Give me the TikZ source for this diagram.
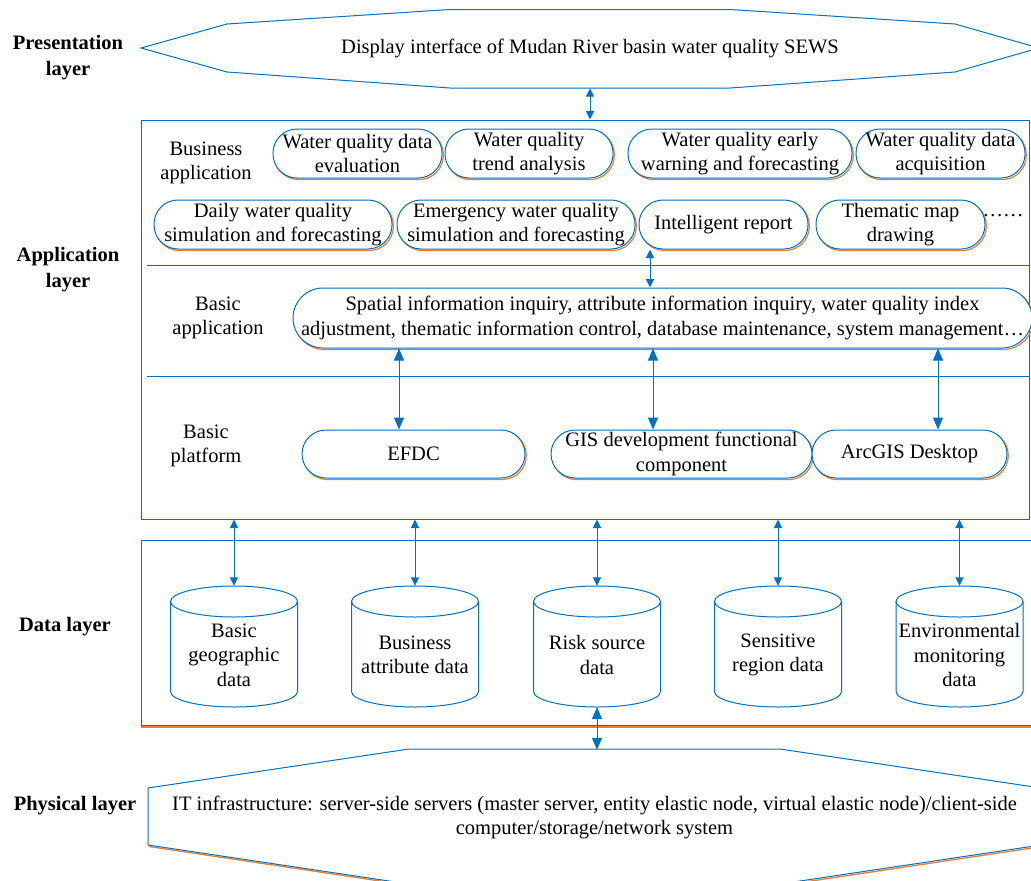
\documentclass[tikz,border=0pt]{standalone}
\usepackage{fontspec}
\setmainfont{Liberation Serif}
\usetikzlibrary{arrows.meta,shadows}
\definecolor{lblue}{RGB}{0,112,192}
\definecolor{lorange}{RGB}{237,125,49}
\newcommand\mycyl[3]{%
  \node[minimum width=127pt, minimum height=121pt] (#1) at (#2,646.5) {};
  \node (#1t) at (#2,655) {#3};
  \draw[ln] (#2,601.5) ellipse [x radius=63.5, y radius=15.5];
  \draw[ln] (#2-63.5,601.5) -- (#2-63.5,691.5) arc [start angle=180, end angle=0, x radius=63.5, y radius=15.5] -- (#2+63.5,601.5);
}
\begin{document}
\begin{tikzpicture}[x=1pt,y=-1pt,
  every node/.style={font=\fontsize{20.5}{24.5}\selectfont, align=center, inner sep=0pt},
  ln/.style={draw=lblue, line width=1pt},
  lbl/.style={font=\bfseries\fontsize{20.5}{26}\selectfont},
  pill/.style={ln, fill=white, rounded corners=#1,
    general shadow={draw=lorange, fill=none, line width=1.2pt, shadow xshift=1.3pt, shadow yshift=-1.5pt}},
  pill/.default=24pt,
  bigar/.style={ln, {Triangle[length=12pt,width=10pt]}-{Triangle[length=12pt,width=10pt]}},
  smallar/.style={ln, {Triangle[length=8.5pt,width=8pt]}-{Triangle[length=8.5pt,width=8pt]}}
]
\path[use as bounding box, clip] (0,0) rectangle (1031,881);

% layer labels
\node[lbl] (Lpres) at (68,58) {Presentation\\layer};
\node[lbl] (Lapp) at (68,270) {Application\\layer};
\node[lbl] (Ldata) at (65,627) {Data layer};
\node[lbl] (Lphys) at (75,806) {Physical layer};

% presentation layer
\draw[ln] (141,48) -- (227,24) -- (450,9.5) -- (730,9.5) -- (955,24) -- (1039,48)
  -- (955,72) -- (730,88) -- (450,88) -- (227,72) -- cycle;
\node[minimum width=897pt, minimum height=79pt] (pres) at (590,48.5)
  {Display interface of Mudan River basin water quality SEWS};

% application layer box
\node[ln, fill=white, minimum width=888pt, minimum height=399pt] (app) at (585,319.5) {};
\draw[ln] (147,265) -- (1029,265);
\draw[ln] (147,376) -- (1029,376);

\node (Lbus) at (206,163) {Business\\application};
\node (Lbapp) at (218,318) {Basic\\application};
\node (Lbplat) at (206,446) {Basic\\platform};

% business application pills
\node[pill, minimum width=169pt, minimum height=49pt] (p1) at (357.5,153.5) {Water quality data\\evaluation};
\node[pill, minimum width=168pt, minimum height=49pt] (p2) at (529,153.5) {Water quality\\trend analysis};
\node[pill, minimum width=224pt, minimum height=49pt] (p3) at (740,153.5) {Water quality early\\warning and forecasting};
\node[pill, minimum width=169pt, minimum height=49pt] (p4) at (940.5,153.5) {Water quality data\\acquisition};
\node[pill, minimum width=238pt, minimum height=49pt] (p5) at (273,224.5) {Daily water quality\\simulation and forecasting};
\node[pill, minimum width=238pt, minimum height=49pt] (p6) at (516,224.5) {Emergency water quality\\simulation and forecasting};
\node[pill, minimum width=169pt, minimum height=49pt] (p7) at (723.5,224.5) {Intelligent report};
\node[pill, minimum width=169pt, minimum height=49pt] (p8) at (900.5,224.5) {Thematic map\\drawing};
\node[anchor=base] (dots) at (1003,216) {……};

% basic application
\node[pill=30pt, minimum width=739pt, minimum height=60pt] (p9) at (662.5,318)
  {Spatial information inquiry, attribute information inquiry, water quality index\\adjustment, thematic information control, database maintenance, system management…};

% basic platform
\node[pill, minimum width=223pt, minimum height=48pt] (p10) at (413.5,454) {EFDC};
\node[pill, minimum width=261pt, minimum height=48pt] (p11) at (681.5,454) {GIS development functional\\component};
\node[pill, minimum width=195pt, minimum height=48pt] (p12) at (909.5,454) {ArcGIS Desktop};

% data layer box
\node[ln, fill=white, minimum width=892pt, minimum height=185pt] (data) at (587,632.5) {};
\draw[draw=lorange, line width=2pt] ([yshift=-1.6pt]data.south west) -- ([yshift=-1.6pt]data.south east);

\mycyl{c1}{234}{Basic\\geographic\\data}
\mycyl{c2}{415}{Business\\attribute data}
\mycyl{c3}{597}{Risk source\\data}
\mycyl{c4}{778}{Sensitive\\region data}
\mycyl{c5}{959.5}{Environmental\\monitoring\\data}

% physical layer
\draw[draw=lorange, line width=1.3pt, xshift=1pt, yshift=-1.5pt] (1041,845) -- (780,884) -- (409,884) -- (148,845);
\draw[ln, fill=white] (409,749) -- (780,749) -- (1041,788) -- (1041,845) -- (780,884) -- (409,884) -- (148,845) -- (148,788) -- cycle;
\node[minimum width=893pt, minimum height=135pt] (phys) at (594.5,817.5)
  {IT infrastructure: server-side servers (master server, entity elastic node, virtual elastic node)/client-side\\computer/storage/network system};

% connectors
\draw[smallar] (pres.south) -- (pres.south |- app.north);
\draw[smallar] ([xshift=-73.5pt]p7.south) -- ([xshift=-73.5pt]p7.south |- p9.north);
\draw[bigar] ([xshift=-14.5pt]p10.north) -- ([xshift=-14.5pt]p10.north |- p9.south);
\draw[bigar] ([xshift=-28.5pt]p11.north) -- ([xshift=-28.5pt]p11.north |- p9.south);
\draw[bigar] ([xshift=28.5pt]p12.north) -- ([xshift=28.5pt]p12.north |- p9.south);
\foreach \c in {c1,c2,c3,c4,c5}{
  \draw[smallar] (\c.north |- app.south) -- (\c.north);
}
\draw[bigar] (c3.south) -- (c3.south |- phys.north);
\end{tikzpicture}
\end{document}
